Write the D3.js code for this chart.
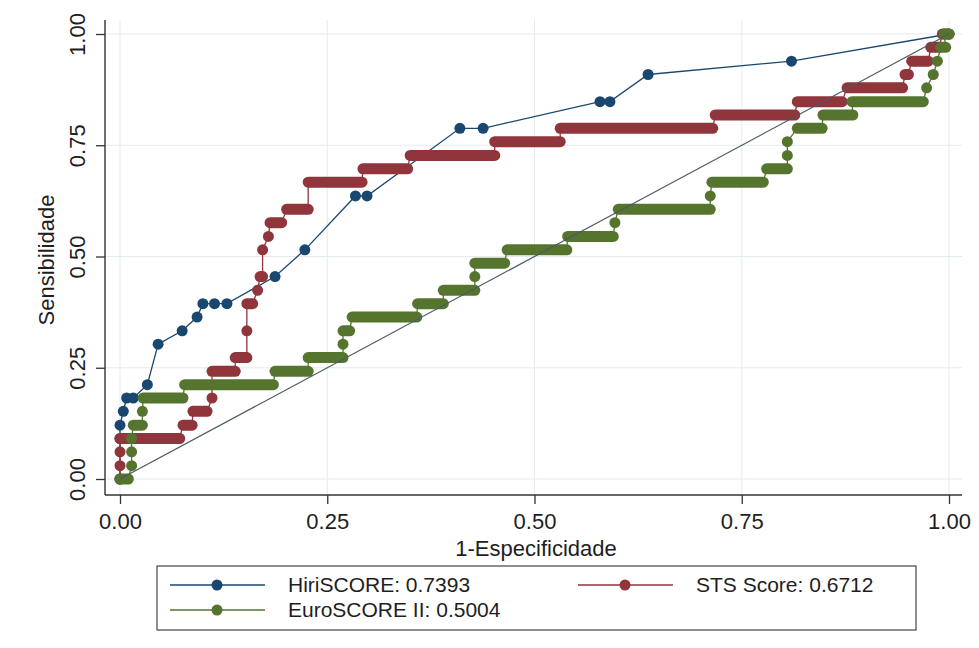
<!DOCTYPE html>
<html>
<head>
<meta charset="utf-8">
<script src="https://cdn.jsdelivr.net/npm/d3@7"></script>
<style>
  body { margin: 0; background: #fff; }
  text { font-family: "Liberation Sans", Arial, Helvetica, sans-serif; fill: #1e1e1e; }
</style>
</head>
<body>
<svg id="chart" width="979" height="648"></svg>
<script>
// tick values shared by both axes
const ticks = [0, 0.25, 0.5, 0.75, 1];

// HiriSCORE: single points (1-specificity, sensitivity)
const hiriX = [0, 0, 0, 0.004, 0.008, 0.016, 0.033, 0.046, 0.075, 0.093, 0.100, 0.114, 0.129,
  0.187, 0.223, 0.284, 0.298, 0.410, 0.438, 0.579, 0.591, 0.637, 0.810, 1];
const hiriY = [0, 0.091, 0.121, 0.152, 0.182, 0.182, 0.212, 0.303, 0.333, 0.364, 0.394, 0.394, 0.394,
  0.455, 0.515, 0.636, 0.636, 0.788, 0.788, 0.848, 0.848, 0.909, 0.939, 1];

// STS Score: runs of tied markers [sensitivity, 1-spec from, 1-spec to]
const stsRuns = [
  [0, 0, 0], [0.030, 0, 0], [0.061, 0, 0], [0.091, 0, 0.072], [0.121, 0.076, 0.087],
  [0.152, 0.088, 0.105], [0.182, 0.111, 0.111], [0.242, 0.111, 0.139], [0.273, 0.139, 0.153],
  [0.333, 0.153, 0.153], [0.394, 0.153, 0.160], [0.424, 0.166, 0.166], [0.455, 0.169, 0.172],
  [0.515, 0.172, 0.172], [0.545, 0.179, 0.179], [0.576, 0.181, 0.195], [0.606, 0.201, 0.227],
  [0.667, 0.227, 0.292], [0.697, 0.293, 0.347], [0.727, 0.350, 0.452], [0.758, 0.452, 0.531],
  [0.788, 0.531, 0.715], [0.818, 0.718, 0.814], [0.848, 0.817, 0.871], [0.879, 0.877, 0.944],
  [0.909, 0.947, 0.951], [0.939, 0.955, 0.975], [0.970, 0.978, 0.988], [1, 0.992, 1]
];

// EuroSCORE II
const euroRuns = [
  [0, 0, 0.010], [0.030, 0.014, 0.014], [0.061, 0.014, 0.014], [0.091, 0.014, 0.014],
  [0.121, 0.016, 0.027], [0.152, 0.027, 0.027], [0.182, 0.028, 0.076], [0.212, 0.078, 0.185],
  [0.242, 0.187, 0.227], [0.273, 0.227, 0.269], [0.303, 0.269, 0.269], [0.333, 0.269, 0.277],
  [0.364, 0.280, 0.358], [0.394, 0.359, 0.390], [0.424, 0.390, 0.428], [0.455, 0.428, 0.428],
  [0.485, 0.428, 0.464], [0.515, 0.467, 0.539], [0.545, 0.540, 0.595], [0.576, 0.597, 0.597],
  [0.606, 0.601, 0.712], [0.636, 0.712, 0.712], [0.667, 0.714, 0.776], [0.697, 0.780, 0.805],
  [0.727, 0.805, 0.805], [0.758, 0.805, 0.805], [0.788, 0.817, 0.847], [0.818, 0.848, 0.884],
  [0.848, 0.883, 0.969], [0.879, 0.973, 0.973], [0.909, 0.981, 0.981], [0.939, 0.986, 0.986],
  [0.970, 0.990, 0.996], [1, 0.994, 1]
];

const legendLabels = ["HiriSCORE: 0.7393", "STS Score: 0.6712", "EuroSCORE II: 0.5004"];
const colors = ["#1a476f", "#90353b", "#55752f"];

const svg = d3.select("svg#chart");

const x = d3.scaleLinear().domain([0, 1]).range([120, 949]);
const y = d3.scaleLinear().domain([0, 1]).range([479, 34]);

const pLeft = 105, pRight = 962, pTop = 20, pBottom = 495;
const r = 5.5;

// grid
let g_grid = svg.append("g").attr("stroke", "#e4ebeb").attr("stroke-width", 1);
g_grid.selectAll("line.h").data(ticks).enter().append("line")
  .attr("x1", pLeft).attr("x2", pRight)
  .attr("y1", (d) => y(d)).attr("y2", (d) => y(d));
g_grid.selectAll("line.v").data(ticks).enter().append("line")
  .attr("y1", pTop).attr("y2", pBottom)
  .attr("x1", (d) => x(d)).attr("x2", (d) => x(d));

// axes
let g_xaxis = svg.append("g").attr("transform", `translate(0,${pBottom})`);
g_xaxis.call(d3.axisBottom(x).tickValues(ticks).tickFormat(d3.format(".2f")).tickSize(9).tickPadding(9));
g_xaxis.select(".domain").remove();
g_xaxis.selectAll("text").attr("font-size", 22);

let g_yaxis = svg.append("g").attr("transform", `translate(${pLeft},0)`);
g_yaxis.call(d3.axisLeft(y).tickValues(ticks).tickFormat(d3.format(".2f")).tickSize(9));
g_yaxis.select(".domain").remove();
g_yaxis.selectAll("text")
  .attr("x", null).attr("dy", null)
  .attr("text-anchor", "middle")
  .attr("font-size", 22)
  .attr("transform", "translate(-20,0) rotate(-90)");

svg.selectAll(".tick line").attr("stroke", "#333").attr("stroke-width", 1.3);

svg.append("line").attr("x1", pLeft).attr("x2", pRight).attr("y1", pBottom).attr("y2", pBottom)
  .attr("stroke", "#333").attr("stroke-width", 1.4);
svg.append("line").attr("x1", pLeft).attr("x2", pLeft).attr("y1", pTop).attr("y2", pBottom)
  .attr("stroke", "#333").attr("stroke-width", 1.4);

// axis titles
svg.append("text").attr("transform", "translate(54,260) rotate(-90)")
  .attr("text-anchor", "middle").attr("font-size", 22).text("Sensibilidade");
svg.append("text").attr("x", 536).attr("y", 556)
  .attr("text-anchor", "middle").attr("font-size", 22).text("1-Especificidade");

// series
let line = d3.line().x((d) => x(d[0])).y((d) => y(d[1]));

function drawRuns(runs, color) {
  let g = svg.append("g");
  let verts = runs.flatMap((d) => [[d[1], d[0]], [d[2], d[0]]]);
  g.append("path").attr("d", line(verts)).attr("fill", "none")
    .attr("stroke", color).attr("stroke-width", 1.3);
  g.selectAll("line.run").data(runs).enter().append("line")
    .attr("x1", (d) => x(d[1])).attr("x2", (d) => x(d[2]) + 0.01)
    .attr("y1", (d) => y(d[0])).attr("y2", (d) => y(d[0]))
    .attr("stroke", color).attr("stroke-width", 2 * r).attr("stroke-linecap", "round");
}

let hiri = hiriX.map((d, i) => [d, hiriY[i]]);
let g_hiri = svg.append("g");
g_hiri.append("path").attr("d", line(hiri)).attr("fill", "none")
  .attr("stroke", colors[0]).attr("stroke-width", 1.3);
g_hiri.selectAll("circle").data(hiri).enter().append("circle")
  .attr("cx", (d) => x(d[0])).attr("cy", (d) => y(d[1])).attr("r", r)
  .attr("fill", colors[0]);

drawRuns(stsRuns, colors[1]);
drawRuns(euroRuns, colors[2]);

// reference line
svg.append("line").attr("x1", x(0)).attr("y1", y(0)).attr("x2", x(1)).attr("y2", y(1))
  .attr("stroke", "#4a5a62").attr("stroke-width", 1.2);

// legend
let g_leg = svg.append("g");
g_leg.append("rect").attr("x", 157).attr("y", 566).attr("width", 759).attr("height", 64)
  .attr("fill", "#fff").attr("stroke", "#444").attr("stroke-width", 1.2);
let legPos = [[170, 585], [578, 585], [170, 610]];
legendLabels.forEach((lab, i) => {
  let [lx, ly] = legPos[i];
  g_leg.append("line").attr("x1", lx).attr("x2", lx + 95).attr("y1", ly).attr("y2", ly)
    .attr("stroke", colors[i]).attr("stroke-width", 1.3);
  g_leg.append("circle").attr("cx", lx + 47).attr("cy", ly).attr("r", r).attr("fill", colors[i]);
  g_leg.append("text").attr("x", lx + 118).attr("y", ly).attr("dy", "0.35em")
    .attr("font-size", 21).text(lab);
});
</script>
</body>
</html>
